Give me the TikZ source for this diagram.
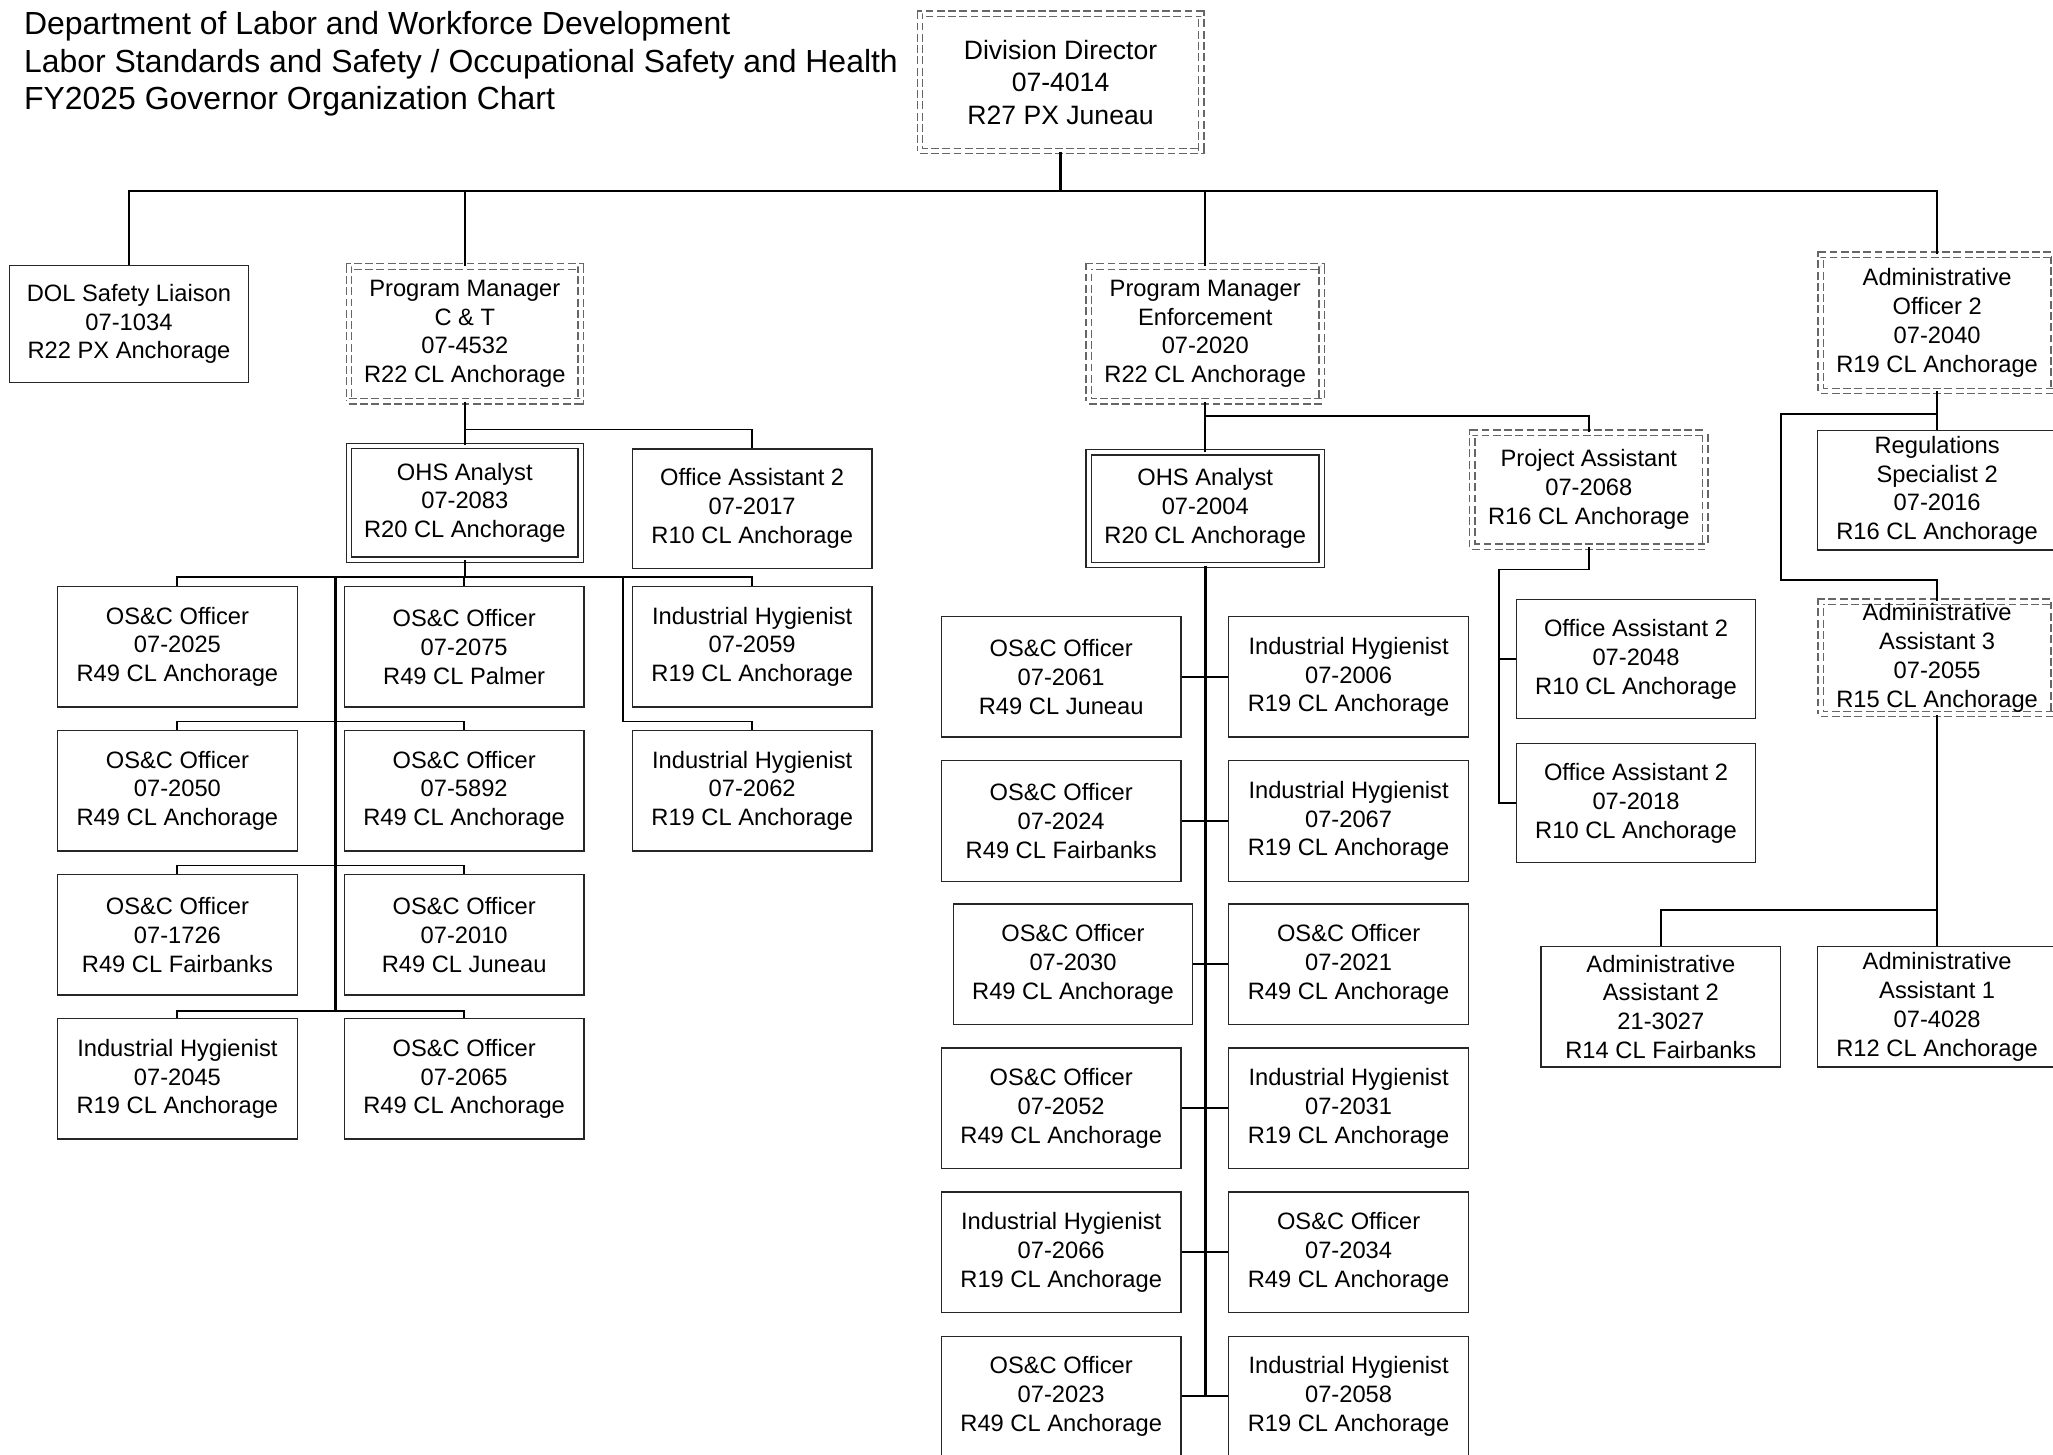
\documentclass[tikz,border=0pt]{standalone}
\usepackage{fontspec}
\setmainfont{Liberation Sans}
\newcommand{\bxf}{\fontsize{9.05}{11}\selectfont}
\newcommand{\ddf}{\fontsize{10.15}{12.25}\selectfont}
\newcommand{\ttlf}{\fontsize{12.2}{14.5}\selectfont}
\begin{document}
\begin{tikzpicture}[x=0.5pt,y=-0.5pt,
 posbox/.style={draw=black!85, line width=0.5pt, minimum width=91.5pt, minimum height=46pt, inner sep=0pt, align=center, font=\bxf},
 dsolid/.style={posbox, double=white, double distance=1.6pt, line width=0.45pt},
 ddash/.style={dsolid, draw=black!60, dash pattern=on 3pt off 1.3pt},
 conn/.style={line width=0.7pt, draw=black},
 trunk/.style={line width=1.1pt, draw=black},
 ttl/.style={anchor=base west, inner sep=0pt, font=\ttlf}]
\useasboundingbox (0,0) rectangle (1568,1111);
\clip (0,0) rectangle (1568,1111);

% titles
\node[ttl] (t1) at (18,26) {Department of Labor and Workforce Development};
\node[ttl] (t2) at (18,55) {Labor Standards and Safety / Occupational Safety and Health};
\node[ttl] (t3) at (18,84) {FY2025 Governor Organization Chart};

% top levels
\node[ddash, minimum width=107.5pt, minimum height=52.5pt, font=\ddf] (dd) at (810,63) {Division Director\\07-4014\\R27 PX Juneau};
\node[posbox, minimum height=44.5pt] (dol) at (98.5,247.5) {DOL Safety Liaison\\07-1034\\R22 PX Anchorage};
\node[ddash, minimum width=88.5pt, minimum height=51.5pt] (pmct) at (355,255) {Program Manager\\C \& T\\07-4532\\R22 CL Anchorage};
\node[ddash, minimum width=89pt, minimum height=51.5pt] (pmen) at (920.5,255) {Program Manager\\Enforcement\\07-2020\\R22 CL Anchorage};
\node[ddash, minimum width=89pt, minimum height=52pt] (aof) at (1479.5,246.5) {Administrative\\Officer 2\\07-2040\\R19 CL Anchorage};

% C & T branch
\node[dsolid, minimum width=88.5pt, minimum height=43.5pt] (ohsa) at (355,384) {OHS Analyst\\07-2083\\R20 CL Anchorage};
\node[posbox, minimum height=45.5pt] (oaa) at (574.5,388.5) {Office Assistant 2\\07-2017\\R10 CL Anchorage};

\node[posbox] (a11) at (135.5,494) {OS\&C Officer\\07-2025\\R49 CL Anchorage};
\node[posbox] (a12) at (354.5,494) {OS\&C Officer\\07-2075\\R49 CL Palmer};
\node[posbox] (a13) at (574.5,494) {Industrial Hygienist\\07-2059\\R19 CL Anchorage};
\node[posbox] (a21) at (135.5,604) {OS\&C Officer\\07-2050\\R49 CL Anchorage};
\node[posbox] (a22) at (354.5,604) {OS\&C Officer\\07-5892\\R49 CL Anchorage};
\node[posbox] (a23) at (574.5,604) {Industrial Hygienist\\07-2062\\R19 CL Anchorage};
\node[posbox] (a31) at (135.5,714) {OS\&C Officer\\07-1726\\R49 CL Fairbanks};
\node[posbox] (a32) at (354.5,714) {OS\&C Officer\\07-2010\\R49 CL Juneau};
\node[posbox] (a41) at (135.5,824) {Industrial Hygienist\\07-2045\\R19 CL Anchorage};
\node[posbox] (a42) at (354.5,824) {OS\&C Officer\\07-2065\\R49 CL Anchorage};

% Enforcement branch
\node[dsolid, minimum width=89pt, minimum height=43pt] (ohsb) at (920.5,388.5) {OHS Analyst\\07-2004\\R20 CL Anchorage};
\node[ddash, minimum width=89pt, minimum height=43.5pt] (pa) at (1213.5,374) {Project Assistant\\07-2068\\R16 CL Anchorage};
\node[posbox, minimum height=45.5pt] (oab) at (1249.5,503.5) {Office Assistant 2\\07-2048\\R10 CL Anchorage};
\node[posbox, minimum height=45.5pt] (oac) at (1249.5,613.5) {Office Assistant 2\\07-2018\\R10 CL Anchorage};

\node[posbox] (e11) at (810.5,517) {OS\&C Officer\\07-2061\\R49 CL Juneau};
\node[posbox] (e12) at (1030,517) {Industrial Hygienist\\07-2006\\R19 CL Anchorage};
\node[posbox] (e21) at (810.5,627) {OS\&C Officer\\07-2024\\R49 CL Fairbanks};
\node[posbox] (e22) at (1030,627) {Industrial Hygienist\\07-2067\\R19 CL Anchorage};
\node[posbox] (e31) at (819.5,736.5) {OS\&C Officer\\07-2030\\R49 CL Anchorage};
\node[posbox] (e32) at (1030,736.5) {OS\&C Officer\\07-2021\\R49 CL Anchorage};
\node[posbox] (e41) at (810.5,846.5) {OS\&C Officer\\07-2052\\R49 CL Anchorage};
\node[posbox] (e42) at (1030,846.5) {Industrial Hygienist\\07-2031\\R19 CL Anchorage};
\node[posbox] (e51) at (810.5,956.5) {Industrial Hygienist\\07-2066\\R19 CL Anchorage};
\node[posbox] (e52) at (1030,956.5) {OS\&C Officer\\07-2034\\R49 CL Anchorage};
\node[posbox] (e61) at (810.5,1066.5) {OS\&C Officer\\07-2023\\R49 CL Anchorage};
\node[posbox] (e62) at (1030,1066.5) {Industrial Hygienist\\07-2058\\R19 CL Anchorage};

% Admin branch
\node[posbox, minimum height=45.5pt] (rs) at (1479.5,374.5) {Regulations\\Specialist 2\\07-2016\\R16 CL Anchorage};
\node[ddash, minimum width=89pt, minimum height=43pt] (aa3) at (1479.5,502.5) {Administrative\\Assistant 3\\07-2055\\R15 CL Anchorage};
\node[posbox] (aa2) at (1268.5,769) {Administrative\\Assistant 2\\21-3027\\R14 CL Fairbanks};
\node[posbox] (aa1) at (1479.5,769) {Administrative\\Assistant 1\\07-4028\\R12 CL Anchorage};

% ---- connectors ----
\coordinate (ya) at (0,146);
\draw[trunk] (dd.south) -- (dd.south |- ya);
\draw[conn] (dol.north) -- (dol.north |- ya) -- (aof.north |- ya) -- (aof.north);
\draw[conn] (pmct.north) -- (pmct.north |- ya);
\draw[conn] (pmen.north) -- (pmen.north |- ya);

% C & T
\coordinate (yb) at (0,328);
\draw[conn] (pmct.south) -- (ohsa.north);
\draw[conn] (pmct.south |- yb) -| (oaa.north);

\coordinate (yc) at (0,441);
\coordinate (yd) at (0,551);
\coordinate (ye) at (0,661);
\coordinate (yf) at (0,772);
\coordinate (xa) at (256,0);
\coordinate (xb) at (476,0);
\draw[conn] (ohsa.south) -- (ohsa.south |- yc);
\draw[conn] (a11.north) -- (a11.north |- yc) -- (a13.north |- yc) -- (a13.north);
\draw[conn] (a12.north) -- (a12.north |- yc);
\draw[trunk] (xa |- yc) -- (xa |- yf);
\draw[conn] (a21.north) -- (a21.north |- yd) -- (a22.north |- yd) -- (a22.north);
\draw[conn] (xb |- yc) -- (xb |- yd) -| (a23.north);
\draw[conn] (a31.north) -- (a31.north |- ye) -- (a32.north |- ye) -- (a32.north);
\draw[conn] (a41.north) -- (a41.north |- yf) -- (a42.north |- yf) -- (a42.north);

% Enforcement
\coordinate (yg) at (0,318);
\draw[conn] (pmen.south) -- (ohsb.north);
\draw[conn] (pmen.south |- yg) -| (pa.north);
\draw[trunk] (ohsb.south) -- (ohsb.south |- e61.west);
\foreach \r in {1,...,6} {\draw[conn] (e\r1.east) -- (e\r2.west);}

% Project Assistant
\coordinate (yh) at (0,435);
\coordinate (xc) at (1145,0);
\draw[conn] (pa.south) -- (pa.south |- yh) -- (xc |- yh) |- (oab.west);
\draw[conn] (xc |- oab.west) |- (oac.west);

% Administrative Officer 2
\coordinate (yi) at (0,316);
\coordinate (yj) at (0,443);
\coordinate (xd) at (1360,0);
\draw[conn] (aof.south) -- (rs.north);
\draw[conn] (aof.south |- yi) -- (xd |- yi) -- (xd |- yj) -- (aa3.north |- yj) -- (aa3.north);

% Administrative Assistant 3
\coordinate (yk) at (0,695);
\draw[conn] (aa3.south) -- (aa1.north);
\draw[conn] (aa3.south |- yk) -| (aa2.north);
\end{tikzpicture}
\end{document}
